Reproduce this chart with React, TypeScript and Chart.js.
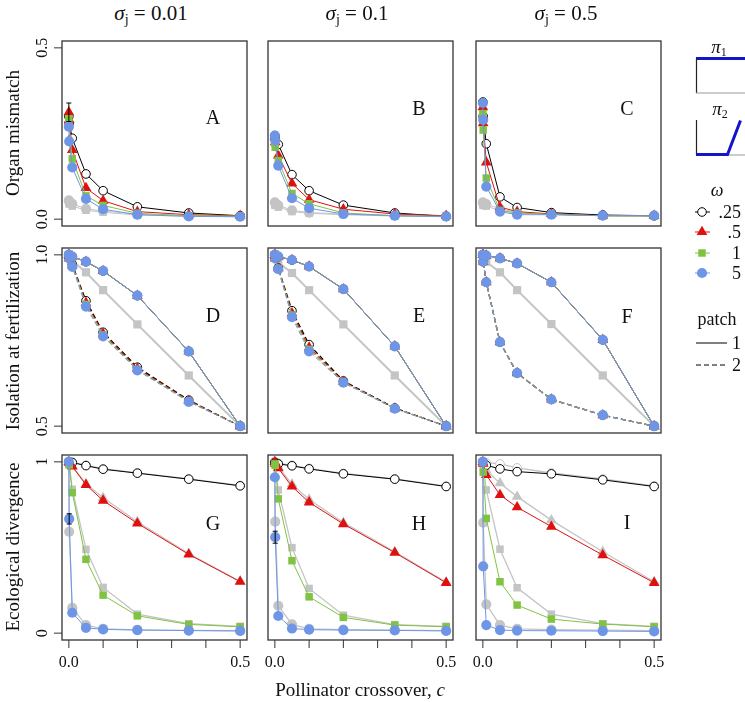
import React, { useEffect, useRef } from "react";
import { Chart, registerables } from "chart.js";
Chart.register(...registerables);

// ---------------- data ----------------
const X = [0, 0.001, 0.01, 0.05, 0.1, 0.2, 0.35, 0.5];
const X_TICKS = [0, 0.1, 0.2, 0.3, 0.4, 0.5];
const X_TICK_LABELS = ["0.0", "", "", "", "", "0.5"];
const ROW_Y_TICKS = [[0, 0.5], [0.5, 1.0], [0, 1]];
const ROW_Y_TICK_LABELS = [["0.0", "0.5"], ["0.5", "1.0"], ["0", "1"]];
const ROW_Y_RANGE = [[-0.02, 0.52], [0.48, 1.02], [-0.04, 1.04]];
const COL_TITLES = ["0.01", "0.1", "0.5"];
const ROW_TITLES = ["Organ mismatch", "Isolation at fertilization", "Ecological divergence"];
const PANEL_LETTERS = [["A", "B", "C"], ["D", "E", "F"], ["G", "H", "I"]];
const OMEGA_LABELS = [".25", ".5", "1", "5"];
const PATCH_LABELS = ["1", "2"];
const X_TITLE = "Pollinator crossover, ";

// Row 1: organ mismatch
const A_W025 = [0.30, 0.28, 0.236, 0.132, 0.083, 0.036, 0.018, 0.010];
const A_W05 = [0.312, 0.29, 0.202, 0.091, 0.054, 0.022, 0.013, 0.010];
const A_W1 = [0.293, 0.27, 0.176, 0.068, 0.040, 0.017, 0.010, 0.009];
const A_W5 = [0.270, 0.227, 0.151, 0.059, 0.029, 0.013, 0.008, 0.007];
const A_GRAY1 = [0.055, 0.052, 0.045, 0.030, 0.024, 0.014, 0.010, 0.008];
const A_GRAY2 = [0.048, 0.044, 0.038, 0.026, 0.020, 0.012, 0.009, 0.007];

const B_W025 = [0.244, 0.235, 0.218, 0.130, 0.083, 0.041, 0.018, 0.008];
const B_W05 = [0.240, 0.225, 0.186, 0.104, 0.057, 0.029, 0.015, 0.010];
const B_W1 = [0.222, 0.210, 0.171, 0.075, 0.045, 0.018, 0.010, 0.008];
const B_W5 = [0.244, 0.230, 0.156, 0.061, 0.032, 0.015, 0.010, 0.008];
const B_GRAY1 = [0.049, 0.047, 0.040, 0.026, 0.019, 0.015, 0.010, 0.008];
const B_GRAY2 = [0.042, 0.040, 0.035, 0.022, 0.017, 0.013, 0.009, 0.007];

const C_W025 = [0.342, 0.30, 0.220, 0.065, 0.034, 0.019, 0.012, 0.010];
const C_W05 = [0.327, 0.28, 0.166, 0.035, 0.022, 0.015, 0.010, 0.010];
const C_W1 = [0.308, 0.26, 0.120, 0.025, 0.018, 0.014, 0.010, 0.009];
const C_W5 = [0.339, 0.29, 0.095, 0.022, 0.013, 0.013, 0.010, 0.010];
const C_GRAY1 = [0.049, 0.046, 0.044, 0.030, 0.020, 0.015, 0.011, 0.010];
const C_GRAY2 = [0.042, 0.040, 0.038, 0.025, 0.018, 0.013, 0.010, 0.009];

// Row 2: isolation at fertilization
const D_PATCH1 = [1.0, 0.998, 0.995, 0.980, 0.953, 0.881, 0.718, 0.5];
const D_GRAY = [1.0, 0.995, 0.983, 0.949, 0.897, 0.797, 0.648, 0.5];
const D_PATCH2_W025 = [1.0, 0.99, 0.972, 0.866, 0.774, 0.672, 0.576, 0.5];
const D_PATCH2_W05 = [1.0, 0.99, 0.970, 0.860, 0.770, 0.668, 0.574, 0.5];
const D_PATCH2_W1 = [1.0, 0.99, 0.968, 0.855, 0.766, 0.665, 0.572, 0.5];
const D_PATCH2_W5 = [1.0, 0.99, 0.965, 0.849, 0.762, 0.663, 0.571, 0.5];

const E_PATCH1 = [1.0, 0.998, 0.995, 0.985, 0.966, 0.900, 0.733, 0.5];
const E_GRAY = [1.0, 0.995, 0.978, 0.947, 0.897, 0.797, 0.648, 0.5];
const E_PATCH2_W025 = [1.0, 0.99, 0.962, 0.837, 0.738, 0.632, 0.553, 0.5];
const E_PATCH2_W05 = [1.0, 0.99, 0.961, 0.830, 0.730, 0.630, 0.552, 0.5];
const E_PATCH2_W1 = [1.0, 0.99, 0.960, 0.824, 0.724, 0.628, 0.552, 0.5];
const E_PATCH2_W5 = [1.0, 0.99, 0.958, 0.818, 0.718, 0.627, 0.551, 0.5];

const F_PATCH1 = [1.0, 1.0, 0.998, 0.990, 0.975, 0.920, 0.752, 0.5];
const F_GRAY = [1.0, 0.995, 0.980, 0.949, 0.897, 0.798, 0.648, 0.5];
const F_PATCH2_W025 = [1.0, 0.98, 0.920, 0.745, 0.655, 0.578, 0.532, 0.5];
const F_PATCH2_W05 = [1.0, 0.98, 0.920, 0.745, 0.655, 0.578, 0.532, 0.5];
const F_PATCH2_W1 = [1.0, 0.98, 0.920, 0.745, 0.655, 0.578, 0.532, 0.5];
const F_PATCH2_W5 = [1.0, 0.98, 0.920, 0.745, 0.655, 0.578, 0.532, 0.5];

// Row 3: ecological divergence
const G_W025 = [1.0, 1.0, 0.996, 0.978, 0.957, 0.934, 0.899, 0.860];
const G_W05 = [1.0, 0.995, 0.973, 0.866, 0.774, 0.641, 0.460, 0.300];
const G_W1 = [0.99, 0.982, 0.820, 0.431, 0.222, 0.101, 0.051, 0.037];
const G_W5 = [1.0, 0.667, 0.119, 0.031, 0.022, 0.018, 0.015, 0.013];
const G_GRAY_W025 = [1.0, 1.0, 0.998, 0.980, 0.960, 0.936, 0.900, 0.862];
const G_GRAY_W05 = [1.0, 0.997, 0.976, 0.872, 0.790, 0.650, 0.465, 0.303];
const G_GRAY_W1 = [1.0, 0.99, 0.840, 0.489, 0.267, 0.111, 0.055, 0.040];
const G_GRAY_W5 = [1.0, 0.592, 0.148, 0.047, 0.025, 0.019, 0.016, 0.014];

const H_W025 = [0.996, 0.994, 0.988, 0.977, 0.959, 0.930, 0.899, 0.856];
const H_W05 = [1.0, 0.99, 0.963, 0.856, 0.764, 0.637, 0.470, 0.294];
const H_W1 = [0.988, 0.98, 0.784, 0.423, 0.212, 0.092, 0.047, 0.037];
const H_W5 = [0.91, 0.56, 0.100, 0.027, 0.020, 0.018, 0.016, 0.013];
const H_GRAY_W025 = [1.0, 0.998, 0.992, 0.980, 0.962, 0.933, 0.900, 0.858];
const H_GRAY_W05 = [1.0, 0.995, 0.970, 0.870, 0.780, 0.645, 0.475, 0.298];
const H_GRAY_W1 = [1.0, 0.99, 0.836, 0.499, 0.261, 0.105, 0.050, 0.040];
const H_GRAY_W5 = [1.0, 0.651, 0.160, 0.051, 0.025, 0.020, 0.018, 0.015];

const I_W025 = [1.0, 0.998, 0.980, 0.959, 0.943, 0.930, 0.895, 0.856];
const I_W05 = [1.0, 0.99, 0.924, 0.807, 0.735, 0.622, 0.456, 0.294];
const I_W1 = [1.0, 0.94, 0.670, 0.300, 0.164, 0.082, 0.053, 0.037];
const I_W5 = [1.0, 0.39, 0.047, 0.018, 0.015, 0.014, 0.012, 0.010];
const I_GRAY_W025 = [1.0, 1.0, 0.995, 0.988, 0.965, 0.935, 0.900, 0.860];
const I_GRAY_W05 = [1.0, 0.995, 0.950, 0.875, 0.797, 0.660, 0.475, 0.300];
const I_GRAY_W1 = [1.0, 0.98, 0.836, 0.490, 0.265, 0.111, 0.055, 0.040];
const I_GRAY_W5 = [1.0, 0.645, 0.168, 0.047, 0.025, 0.020, 0.018, 0.015];

// error bars: [x, y, half-width]
const A_ERR = [[0, 0.312, 0.027]];
const G_ERR = [[0.001, 0.667, 0.03]];
const H_ERR = [[0.001, 0.56, 0.035]];

// ---------------- styling ----------------
const RED = "#df1010";
const GREEN = "#80c342";
const BLUE = "#6f96e6";
const GRAY = "#c4c4c4";
const BLACK = "#000000";
const SERIF = '"Liberation Serif", "Times New Roman", serif';

const COL_LEFT = [62, 268, 476];
const ROW_TOP = [41, 248, 455];
const BOX = 185;
const PAD = { left: 45, top: 10, right: 10, bottom: 35 };
const LETTER_DY = [[76, 67, 67], [67, 67, 68], [68, 68, 67]];

type Mk = "open" | "tri" | "sq" | "dot";

function mkSeries(vals: number[], mk: Mk, col: string, o: { dash?: number[]; lw?: number; r?: number; gray?: boolean } = {}) {
  const r = o.r ?? (mk === "sq" ? 5.3 : mk === "tri" ? 6.2 : mk === "open" ? 4.3 : 5.1);
  return {
    data: X.map((x, i) => ({ x, y: vals[i] })),
    borderColor: col,
    borderWidth: o.lw ?? 1,
    borderDash: o.dash ?? [],
    pointStyle: mk === "sq" ? "rect" : mk === "tri" ? "triangle" : "circle",
    pointRadius: r,
    pointBackgroundColor: mk === "open" ? "#ffffff" : col,
    pointBorderColor: mk === "open" ? (o.gray ? GRAY : BLACK) : col,
    pointBorderWidth: mk === "open" ? 1 : 0,
    tension: 0,
    fill: false,
    clip: false,
  };
}

function rowOne(w: number[][], g1: number[], g2: number[]) {
  return [
    mkSeries(g1, "dot", GRAY),
    mkSeries(g2, "sq", GRAY),
    mkSeries(w[0], "open", BLACK),
    mkSeries(w[1], "tri", RED),
    mkSeries(w[2], "sq", GREEN),
    mkSeries(w[3], "dot", BLUE),
  ].reverse();
}

function rowTwo(p1: number[], gray: number[], p2: number[][]) {
  const dash = [5, 3];
  return [
    mkSeries(gray, "sq", GRAY, { lw: 2, r: 5.8 }),
    mkSeries(p2[0], "open", BLACK, { dash, lw: 1.3 }),
    mkSeries(p2[1], "tri", RED, { dash, lw: 1.2 }),
    mkSeries(p2[2], "sq", GREEN, { dash, lw: 1.2 }),
    mkSeries(p2[3], "dot", BLUE, { dash, lw: 1 }),
    mkSeries(p1, "open", BLACK),
    mkSeries(p1, "tri", RED),
    mkSeries(p1, "sq", GREEN),
    mkSeries(p1, "dot", BLUE),
  ].reverse();
}

function rowThree(w: number[][], g: number[][]) {
  return [
    mkSeries(g[0], "open", GRAY, { gray: true, lw: 1.3 }),
    mkSeries(g[1], "tri", GRAY, { lw: 1.3 }),
    mkSeries(g[2], "sq", GRAY, { lw: 1.3 }),
    mkSeries(g[3], "dot", GRAY, { lw: 1.3 }),
    mkSeries(w[0], "open", BLACK),
    mkSeries(w[1], "tri", RED),
    mkSeries(w[2], "sq", GREEN),
    mkSeries(w[3], "dot", BLUE),
  ].reverse();
}

type PanelSpec = { row: number; col: number; datasets: any[]; errs: number[][] };

const PANELS: PanelSpec[] = [
  { row: 0, col: 0, datasets: rowOne([A_W025, A_W05, A_W1, A_W5], A_GRAY1, A_GRAY2), errs: A_ERR },
  { row: 0, col: 1, datasets: rowOne([B_W025, B_W05, B_W1, B_W5], B_GRAY1, B_GRAY2), errs: [] },
  { row: 0, col: 2, datasets: rowOne([C_W025, C_W05, C_W1, C_W5], C_GRAY1, C_GRAY2), errs: [] },
  { row: 1, col: 0, datasets: rowTwo(D_PATCH1, D_GRAY, [D_PATCH2_W025, D_PATCH2_W05, D_PATCH2_W1, D_PATCH2_W5]), errs: [] },
  { row: 1, col: 1, datasets: rowTwo(E_PATCH1, E_GRAY, [E_PATCH2_W025, E_PATCH2_W05, E_PATCH2_W1, E_PATCH2_W5]), errs: [] },
  { row: 1, col: 2, datasets: rowTwo(F_PATCH1, F_GRAY, [F_PATCH2_W025, F_PATCH2_W05, F_PATCH2_W1, F_PATCH2_W5]), errs: [] },
  { row: 2, col: 0, datasets: rowThree([G_W025, G_W05, G_W1, G_W5], [G_GRAY_W025, G_GRAY_W05, G_GRAY_W1, G_GRAY_W5]), errs: G_ERR },
  { row: 2, col: 1, datasets: rowThree([H_W025, H_W05, H_W1, H_W5], [H_GRAY_W025, H_GRAY_W05, H_GRAY_W1, H_GRAY_W5]), errs: H_ERR },
  { row: 2, col: 2, datasets: rowThree([I_W025, I_W05, I_W1, I_W5], [I_GRAY_W025, I_GRAY_W05, I_GRAY_W1, I_GRAY_W5]), errs: [] },
];

const decoPlugin = {
  id: "deco",
  afterDatasetsDraw(chart: any, _args: any, opts: any) {
    const { ctx, chartArea: a, scales } = chart;
    const xs = scales.x;
    const ys = scales.y;
    const { row, col, errs } = opts;
    ctx.save();
    // error bars
    ctx.strokeStyle = "#000";
    ctx.lineWidth = 1;
    for (const [ex, ey, eh] of errs as number[][]) {
      const px = xs.getPixelForValue(ex);
      const y1 = ys.getPixelForValue(ey - eh);
      const y2 = ys.getPixelForValue(ey + eh);
      ctx.beginPath();
      ctx.moveTo(px, y1); ctx.lineTo(px, y2);
      ctx.moveTo(px - 2.5, y1); ctx.lineTo(px + 2.5, y1);
      ctx.moveTo(px - 2.5, y2); ctx.lineTo(px + 2.5, y2);
      ctx.stroke();
    }
    // frame
    ctx.strokeStyle = "#333";
    ctx.lineWidth = 1.3;
    ctx.strokeRect(a.left, a.top, a.right - a.left, a.bottom - a.top);
    ctx.fillStyle = "#111";
    ctx.lineWidth = 1;
    // x ticks (bottom row)
    if (row === 2) {
      ctx.font = `16px ${SERIF}`;
      ctx.textAlign = "center";
      ctx.textBaseline = "alphabetic";
      X_TICKS.forEach((t, i) => {
        const px = xs.getPixelForValue(t);
        ctx.beginPath();
        ctx.moveTo(px, a.bottom);
        ctx.lineTo(px, a.bottom + 8);
        ctx.stroke();
        if (X_TICK_LABELS[i]) ctx.fillText(X_TICK_LABELS[i], px, a.bottom + 27);
      });
    }
    // y ticks (left column)
    if (col === 0) {
      ctx.font = `16px ${SERIF}`;
      ctx.textAlign = "center";
      ctx.textBaseline = "alphabetic";
      ROW_Y_TICKS[row].forEach((t, i) => {
        const py = ys.getPixelForValue(t);
        ctx.beginPath();
        ctx.moveTo(a.left - 8, py);
        ctx.lineTo(a.left, py);
        ctx.stroke();
        ctx.save();
        ctx.translate(a.left - 15, py);
        ctx.rotate(-Math.PI / 2);
        ctx.fillText(ROW_Y_TICK_LABELS[row][i], 0, 0);
        ctx.restore();
      });
    }
    // panel letter
    ctx.font = `20px ${SERIF}`;
    ctx.textAlign = "center";
    ctx.textBaseline = "alphabetic";
    ctx.fillText(PANEL_LETTERS[row][col], a.left + 151, a.top + LETTER_DY[row][col] + 6.6);
    ctx.restore();
  },
};

function Panel({ spec }: { spec: PanelSpec }) {
  const ref = useRef<HTMLCanvasElement>(null);
  useEffect(() => {
    const [ymin, ymax] = ROW_Y_RANGE[spec.row];
    const chart = new Chart(ref.current as HTMLCanvasElement, {
      type: "line",
      data: { datasets: spec.datasets as any },
      options: {
        responsive: false,
        maintainAspectRatio: false,
        animation: false,
        devicePixelRatio: 1,
        events: [],
        layout: { padding: PAD },
        scales: {
          x: { type: "linear", min: -0.02, max: 0.52, display: false },
          y: { type: "linear", min: ymin, max: ymax, display: false },
        },
        plugins: {
          legend: { display: false },
          tooltip: { enabled: false },
          deco: { row: spec.row, col: spec.col, errs: spec.errs },
        } as any,
      },
      plugins: [decoPlugin as any],
    });
    return () => chart.destroy();
  }, [spec]);
  return (
    <canvas
      ref={ref}
      width={BOX + PAD.left + PAD.right}
      height={BOX + PAD.top + PAD.bottom}
      style={{ position: "absolute", left: COL_LEFT[spec.col] - PAD.left, top: ROW_TOP[spec.row] - PAD.top }}
    />
  );
}

function Txt({ x, y, size = 18, align = "center", rot = 0, children }: any) {
  const tx = align === "center" ? "-50%" : align === "right" ? "-100%" : "0";
  return (
    <div
      style={{
        position: "absolute",
        left: x,
        top: y,
        transform: `translate(${tx}, -50%) rotate(${rot}deg)`,
        fontFamily: SERIF,
        fontSize: size,
        lineHeight: 1,
        whiteSpace: "nowrap",
        color: "#111",
      }}
    >
      {children}
    </div>
  );
}

const OMEGA_ROW_Y = [212, 232, 253, 273];
const PATCH_ROW_Y = [343, 365];

function LegendSvg() {
  const tri = (cx: number, cy: number, r: number) =>
    `${cx},${cy - r} ${cx + r * 0.866},${cy + r * 0.5} ${cx - r * 0.866},${cy + r * 0.5}`;
  return (
    <svg width={745} height={702} style={{ position: "absolute", left: 0, top: 0, pointerEvents: "none" }}>
      {/* pi1 */}
      <line x1={696} y1={58.5} x2={745} y2={58.5} stroke="#1414c8" strokeWidth={3} />
      <line x1={696.5} y1={58} x2={696.5} y2={93} stroke="#222" strokeWidth={1.2} />
      <line x1={696} y1={93} x2={745} y2={93} stroke="#999" strokeWidth={1} />
      {/* pi2 */}
      <line x1={696.5} y1={120} x2={696.5} y2={155} stroke="#222" strokeWidth={1.2} />
      <line x1={696} y1={155} x2={745} y2={155} stroke="#999" strokeWidth={1} />
      <polyline points="696,154.5 727.5,154.5 740.5,120.5" fill="none" stroke="#1414c8" strokeWidth={3} />
      {/* omega */}
      <line x1={695} y1={OMEGA_ROW_Y[0]} x2={710} y2={OMEGA_ROW_Y[0]} stroke={BLACK} strokeWidth={1} />
      <circle cx={702} cy={OMEGA_ROW_Y[0]} r={4.3} fill="#fff" stroke={BLACK} strokeWidth={1} />
      <line x1={695} y1={OMEGA_ROW_Y[1]} x2={710} y2={OMEGA_ROW_Y[1]} stroke={RED} strokeWidth={1} />
      <polygon points={tri(702, OMEGA_ROW_Y[1], 6.2)} fill={RED} />
      <line x1={695} y1={OMEGA_ROW_Y[2]} x2={710} y2={OMEGA_ROW_Y[2]} stroke={GREEN} strokeWidth={1} />
      <rect x={698.25} y={OMEGA_ROW_Y[2] - 3.75} width={7.5} height={7.5} fill={GREEN} />
      <line x1={695} y1={OMEGA_ROW_Y[3]} x2={710} y2={OMEGA_ROW_Y[3]} stroke={BLUE} strokeWidth={1} />
      <circle cx={702} cy={OMEGA_ROW_Y[3]} r={5.1} fill={BLUE} />
      {/* patch */}
      <line x1={696} y1={PATCH_ROW_Y[0]} x2={727} y2={PATCH_ROW_Y[0]} stroke={BLACK} strokeWidth={1} />
      <line x1={696} y1={PATCH_ROW_Y[1]} x2={727} y2={PATCH_ROW_Y[1]} stroke={BLACK} strokeWidth={1} strokeDasharray="5 3" />
    </svg>
  );
}

const COL_TITLE_X = [151, 357, 566];
const ROW_TITLE_Y = [133, 341, 547];

export default function App() {
  return (
    <div style={{ position: "absolute", left: 0, top: 0, width: 745, height: 702, background: "#fff", overflow: "hidden" }}>
      {PANELS.map((p, i) => (
        <Panel key={i} spec={p} />
      ))}
      {COL_TITLES.map((t, i) => (
        <Txt key={"ct" + i} x={COL_TITLE_X[i]} y={15} size={21}>
          <i>σ</i>
          <sub style={{ fontSize: 14, verticalAlign: "-4px" }}>j</sub> = {t}
        </Txt>
      ))}
      {ROW_TITLES.map((t, i) => (
        <Txt key={"rt" + i} x={12} y={ROW_TITLE_Y[i]} size={19} rot={-90}>
          {t}
        </Txt>
      ))}
      <Txt x={360} y={689} size={19}>
        {X_TITLE}
        <i>c</i>
      </Txt>
      <LegendSvg />
      <Txt x={719} y={47} size={19}>
        <i>π</i>
        <sub style={{ fontSize: 12, verticalAlign: "-3px" }}>1</sub>
      </Txt>
      <Txt x={720} y={109} size={19}>
        <i>π</i>
        <sub style={{ fontSize: 12, verticalAlign: "-3px" }}>2</sub>
      </Txt>
      <Txt x={717} y={190} size={18}>
        <i>ω</i>
      </Txt>
      {OMEGA_LABELS.map((t, i) => (
        <Txt key={"ol" + i} x={741} y={OMEGA_ROW_Y[i]} size={18} align="right">
          {t}
        </Txt>
      ))}
      <Txt x={717} y={319} size={18}>
        patch
      </Txt>
      {PATCH_LABELS.map((t, i) => (
        <Txt key={"pl" + i} x={741} y={PATCH_ROW_Y[i]} size={18} align="right">
          {t}
        </Txt>
      ))}
    </div>
  );
}
